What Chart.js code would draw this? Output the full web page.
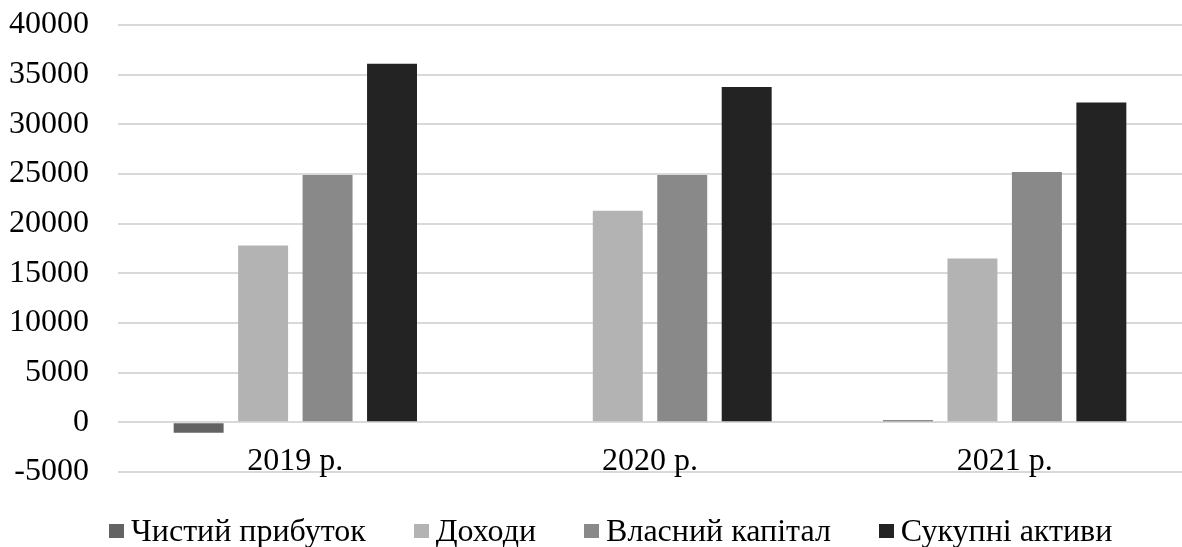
<!DOCTYPE html>
<html>
<head>
<meta charset="utf-8">
<script src="https://cdn.jsdelivr.net/npm/chart.js@4/dist/chart.umd.min.js"></script>
<style>
  html, body { margin: 0; padding: 0; background: #fff; }
  #wrap { position: relative; width: 1182px; height: 547px; overflow: hidden; }
  #chart { position: absolute; left: 0; top: 0; }
  #legend {
    position: absolute; left: 109px; top: 512px;
    display: flex; align-items: center; white-space: nowrap;
    font-family: "Liberation Serif", "Times New Roman", serif;
    font-size: 32px; line-height: 37px; color: #000;
  }
  .item { display: flex; align-items: center; margin-right: 48px; }
  .box { width: 15px; height: 14px; margin-right: 7px; }
</style>
</head>
<body>
<div id="wrap">
  <canvas id="chart" width="1182" height="547"></canvas>
  <div id="legend"></div>
</div>
<script>
// Categories (years)
const years = ['2019 р.', '2020 р.', '2021 р.'];

// Series values
const netProfit = [-1050, 0, 220];          // Чистий прибуток
const revenue = [17800, 21300, 16500];      // Доходи
const equity = [24900, 24900, 25200];       // Власний капітал
const totalAssets = [36100, 33750, 32200];  // Сукупні активи

// Series names and fills
const seriesNames = ['Чистий прибуток', 'Доходи', 'Власний капітал', 'Сукупні активи'];
const seriesColors = ['#636363', '#b3b3b3', '#898989', '#232323'];

// Value axis range
const yMin = -5000;
const yMax = 40000;
const yStep = 5000;

const FONT = '"Liberation Serif", "Times New Roman", serif';

const seriesValues = [netProfit, revenue, equity, totalAssets];
const datasets = seriesValues.map((vals, i) => ({
  label: seriesNames[i],
  data: vals,
  backgroundColor: seriesColors[i],
  borderWidth: 0,
  categoryPercentage: 0.727,
  barPercentage: 0.775
}));

new Chart(document.getElementById('chart'), {
  type: 'bar',
  data: { labels: years, datasets },
  options: {
    responsive: false,
    animation: false,
    layout: { padding: { top: 25, right: 0, bottom: 75, left: 0 } },
    plugins: {
      legend: { display: false },
      tooltip: { enabled: false }
    },
    scales: {
      x: {
        position: { y: 0 },
        grid: { display: false, drawTicks: false },
        border: { display: false },
        ticks: {
          padding: 20,
          color: '#000',
          font: { family: FONT, size: 32 }
        },
        afterFit(scale) {
          scale.height = 0;
          scale.paddingTop = 0;
          scale.paddingBottom = 0;
        }
      },
      y: {
        min: yMin,
        max: yMax,
        grid: { color: '#d9d9d9', lineWidth: 2, drawTicks: false },
        border: { display: false },
        ticks: {
          stepSize: yStep,
          padding: 29,
          color: '#000',
          font: { family: FONT, size: 32 },
          callback: (v) => String(v)
        },
        afterFit(scale) {
          scale.width = 118;
          scale.paddingTop = 0;
          scale.paddingBottom = 0;
        }
      }
    }
  }
});

// Legend row below the plot
const legend = document.getElementById('legend');
seriesNames.forEach((name, i) => {
  const item = document.createElement('div');
  item.className = 'item';
  const box = document.createElement('span');
  box.className = 'box';
  box.style.background = seriesColors[i];
  const text = document.createElement('span');
  text.textContent = name;
  item.appendChild(box);
  item.appendChild(text);
  legend.appendChild(item);
});
</script>
</body>
</html>
